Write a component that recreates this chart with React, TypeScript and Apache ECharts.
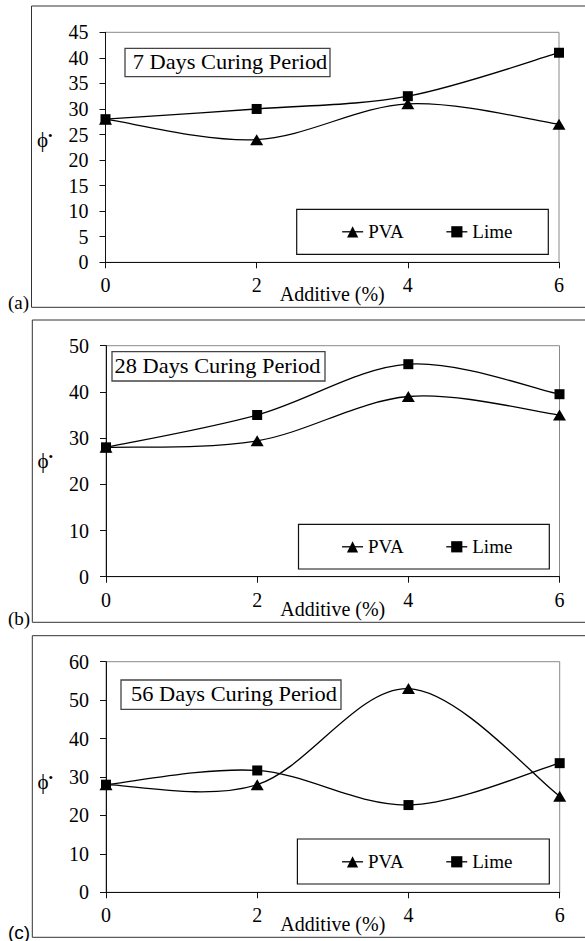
import React, { useEffect, useRef } from "react";
import * as echarts from "echarts";

// ---- data ----
const additive = [0, 2, 4, 6];
const pva7 = [28, 24, 31, 27];
const lime7 = [28, 30, 32.5, 41];
const pva28 = [28, 29.4, 39, 35];
const lime28 = [28, 35, 46, 39.5];
const pva56 = [28, 28, 53, 25];
const lime56 = [28, 31.7, 22.7, 33.6];
const seriesNames = ["PVA", "Lime"];
const panelTitles = ["7 Days Curing Period", "28 Days Curing Period", "56 Days Curing Period"];
const panelTags = ["(a)", "(b)", "(c)"];
const yMaxes = [45, 50, 60];
const yIntervals = [5, 10, 10];
const xMin = 0;
const xMax = 6;
const xInterval = 2;
const xName = "Additive (%)";
const yName = "{p|ϕ}{d|•}";

const panelData = [
  [pva7, lime7],
  [pva28, lime28],
  [pva56, lime56],
];

// ---- layout ----
const SERIF = "'Liberation Serif', 'Times New Roman', serif";
const layout = [
  {
    frame: { x: 31.5, y: 6, h: 301.3 },
    grid: { left: 105.5, top: 32.3, width: 453.5, height: 230 },
    title: { x: 125, y: 48.3, w: 205, h: 28.4, cx: 230, cy: 62.5 },
    legend: { x: 296.7, y: 209.3, w: 251.6, h: 45, itemLeft: 341.5, cy: 232.3 },
    tag: { x: 8, cy: 302, font: SERIF },
    yNameShift: -7,
  },
  {
    frame: { x: 32.3, y: 320, h: 302.3 },
    grid: { left: 106, top: 345.7, width: 453.5, height: 231 },
    title: { x: 112, y: 351.7, w: 213, h: 29.3, cx: 217.5, cy: 366.3 },
    legend: { x: 298.5, y: 524.3, w: 250.8, h: 44.7, itemLeft: 341.4, cy: 547.3 },
    tag: { x: 8, cy: 618, font: SERIF },
    yNameShift: 0,
  },
  {
    frame: { x: 32.3, y: 635.7, h: 301.6 },
    grid: { left: 106, top: 661.7, width: 453.7, height: 230.6 },
    title: { x: 121, y: 680, w: 220, h: 29.3, cx: 234, cy: 694.7 },
    legend: { x: 297.4, y: 839, w: 251.9, h: 45, itemLeft: 341.4, cy: 862.3 },
    tag: { x: 8, cy: 932, font: "'Liberation Sans', Arial, sans-serif" },
    yNameShift: 5,
  },
];

// Excel-like smoothed segment (Catmull-Rom as cubic Bezier), computed in pixel space
function makeSmoothRenderer(vals: number[]) {
  return (params: any, api: any) => {
    const j = params.dataIndex;
    const n = additive.length;
    if (j >= n - 1) return null;
    const clampI = (k: number) => Math.max(0, Math.min(n - 1, k));
    const pt = (k: number) => api.coord([additive[clampI(k)], vals[clampI(k)]]);
    const p0 = pt(j - 1);
    const p1 = pt(j);
    const p2 = pt(j + 1);
    const p3 = pt(j + 2);
    return {
      type: "bezierCurve",
      shape: {
        x1: p1[0],
        y1: p1[1],
        x2: p2[0],
        y2: p2[1],
        cpx1: p1[0] + (p2[0] - p0[0]) / 6,
        cpy1: p1[1] + (p2[1] - p0[1]) / 6,
        cpx2: p2[0] - (p3[0] - p1[0]) / 6,
        cpy2: p2[1] - (p3[1] - p1[1]) / 6,
      },
      style: { stroke: "#000", lineWidth: 1.3, fill: "none" },
      silent: true,
    };
  };
}

function buildOption() {
  const grids: any[] = [];
  const xAxes: any[] = [];
  const yAxes: any[] = [];
  const series: any[] = [];
  const legends: any[] = [];
  const graphics: any[] = [];

  layout.forEach((L, i) => {
    grids.push({
      left: L.grid.left,
      top: L.grid.top,
      width: L.grid.width,
      height: L.grid.height,
      show: true,
      borderColor: "#8a8a8a",
      borderWidth: 1,
      backgroundColor: "transparent",
    });
    xAxes.push({
      type: "value",
      gridIndex: i,
      min: xMin,
      max: xMax,
      interval: xInterval,
      name: xName,
      nameLocation: "middle",
      nameGap: 22,
      nameMoveOverlap: false,
      nameTextStyle: { fontFamily: SERIF, fontSize: 20, color: "#000" },
      axisLine: { show: true, onZero: false, lineStyle: { color: "#111", width: 1 } },
      axisTick: { show: true, inside: false, length: 6, lineStyle: { color: "#111" } },
      axisLabel: { margin: 13, fontFamily: SERIF, fontSize: 20, color: "#000" },
      splitLine: { show: false },
    });
    const sh = L.yNameShift;
    yAxes.push({
      type: "value",
      gridIndex: i,
      min: 0,
      max: yMaxes[i],
      interval: yIntervals[i],
      name: yName,
      nameLocation: "middle",
      nameRotate: 0,
      nameGap: 53,
      nameTextStyle: {
        color: "#000",
        padding: sh < 0 ? [0, 0, -2 * sh, 0] : [2 * sh, 0, 0, 0],
        rich: {
          p: { fontFamily: SERIF, fontSize: 21, color: "#000" },
          d: { fontFamily: SERIF, fontSize: 13, color: "#000", padding: [0, 0, 9, 0] },
        },
      },
      axisLine: { show: true, lineStyle: { color: "#111", width: 1 } },
      axisTick: { show: true, inside: false, length: 6, lineStyle: { color: "#111" } },
      axisLabel: { margin: 17, fontFamily: SERIF, fontSize: 20, color: "#000" },
      splitLine: { show: false },
    });
    panelData[i].forEach((vals, s) => {
      const data = additive.map((x, j) => [x, vals[j]]);
      series.push({
        name: seriesNames[s],
        type: "line",
        xAxisIndex: i,
        yAxisIndex: i,
        data,
        clip: false,
        symbol: s === 0 ? "triangle" : "rect",
        symbolSize: s === 0 ? [13, 11] : 10,
        lineStyle: { color: "rgba(0,0,0,0)", width: 1.3 },
        itemStyle: { color: "#000" },
        z: 4,
      });
      series.push({
        name: seriesNames[s],
        type: "custom",
        coordinateSystem: "cartesian2d",
        xAxisIndex: i,
        yAxisIndex: i,
        data,
        clip: false,
        renderItem: makeSmoothRenderer(vals),
        z: 3,
      });
    });
    legends.push({
      data: seriesNames,
      left: L.legend.itemLeft,
      top: L.legend.cy - 10,
      orient: "horizontal",
      padding: 0,
      itemGap: 42,
      itemWidth: 21,
      itemHeight: 14,
      lineStyle: { color: "#000", width: 1.3, opacity: 1 },
      textStyle: { fontFamily: SERIF, fontSize: 19, color: "#000" },
      z: 10,
    });
    // outer frame
    graphics.push({
      type: "rect",
      shape: { x: L.frame.x, y: L.frame.y, width: 620, height: L.frame.h },
      style: { fill: "transparent", stroke: "#333", lineWidth: 1 },
      z: 0,
      silent: true,
    });
    // legend box
    graphics.push({
      type: "rect",
      shape: { x: L.legend.x, y: L.legend.y, width: L.legend.w, height: L.legend.h },
      style: { fill: "#fff", stroke: "#111", lineWidth: 1.2 },
      z: 5,
      silent: true,
    });
    // title box
    graphics.push({
      type: "rect",
      shape: { x: L.title.x, y: L.title.y, width: L.title.w, height: L.title.h },
      style: { fill: "#fff", stroke: "#444", lineWidth: 1.3 },
      z: 5,
      silent: true,
    });
    graphics.push({
      type: "text",
      x: L.title.cx,
      y: L.title.cy,
      scaleX: 1.12,
      style: {
        text: panelTitles[i],
        fontFamily: SERIF,
        fontSize: 20,
        fill: "#000",
        align: "center",
        verticalAlign: "middle",
        textAlign: "center",
        textVerticalAlign: "middle",
      },
      z: 6,
      silent: true,
    });
    // panel tag
    graphics.push({
      type: "text",
      x: L.tag.x,
      y: L.tag.cy,
      style: {
        text: panelTags[i],
        fontFamily: L.tag.font,
        fontSize: 19,
        fill: "#000",
        align: "left",
        verticalAlign: "middle",
        textAlign: "left",
        textVerticalAlign: "middle",
      },
      z: 6,
      silent: true,
    });
  });

  return {
    animation: false,
    backgroundColor: "#fff",
    grid: grids,
    xAxis: xAxes,
    yAxis: yAxes,
    legend: legends,
    series,
    graphic: { elements: graphics },
  };
}

export default function App() {
  const ref = useRef<HTMLDivElement>(null);
  useEffect(() => {
    if (!ref.current) return;
    const chart = echarts.init(ref.current, null, { renderer: "svg" });
    chart.setOption(buildOption() as any);
    return () => chart.dispose();
  }, []);
  return (
    <div
      ref={ref}
      style={{ position: "absolute", left: 0, top: 0, width: 585, height: 941, background: "#fff" }}
    />
  );
}
